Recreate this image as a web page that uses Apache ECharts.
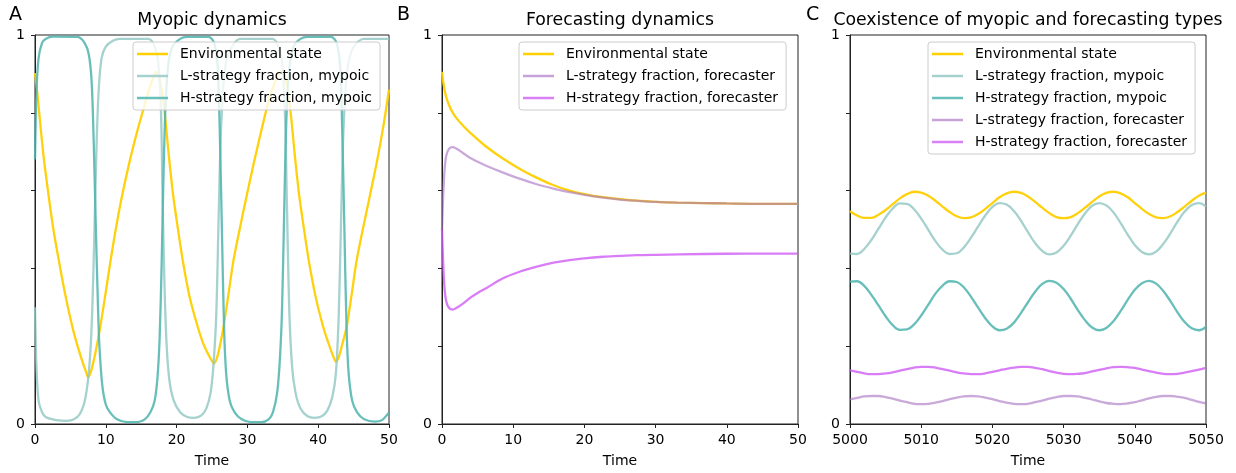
<!DOCTYPE html>
<html>
<head>
<meta charset="utf-8">
<script src="https://cdn.jsdelivr.net/npm/echarts@6/dist/echarts.min.js"></script>
<style>
html,body{margin:0;padding:0;background:#fff;}
#chart{width:1236px;height:473px;}
</style>
</head>
<body>
<div id="chart"></div>
<script>
// ---------------- DATA ----------------
const panelTitles = ['Myopic dynamics', 'Forecasting dynamics', 'Coexistence of myopic and forecasting types'];
const panelLetters = ['A', 'B', 'C'];
const seriesNames = {
  env: 'Environmental state',
  lMy: 'L-strategy fraction, mypoic',
  hMy: 'H-strategy fraction, mypoic',
  lFo: 'L-strategy fraction, forecaster',
  hFo: 'H-strategy fraction, forecaster'
};
const xTicksAB = [0, 10, 20, 30, 40, 50];
const xTicksC = [5000, 5010, 5020, 5030, 5040, 5050];

// Panel A: [time, value]
const envA = [[0,0.902],[0.3,0.855],[0.7,0.78],[1.2,0.69],[1.9,0.59],[2.6,0.5],[3.4,0.417],[4.3,0.33],[5.3,0.248],[6.1,0.195],[6.8,0.155],[7.2,0.135],[7.5,0.12],
  [7.9,0.135],[8.5,0.18],[9.2,0.248],[10.0,0.34],[10.6,0.412],[11.4,0.5],[12.2,0.578],[13.3,0.67],[14.4,0.75],[15.4,0.815],[16.2,0.865],[16.8,0.895],[17.1,0.905],[17.4,0.9],
  [17.9,0.86],[18.4,0.785],[18.9,0.69],[19.5,0.59],[20.2,0.5],[20.9,0.417],[21.8,0.33],[22.9,0.255],[23.7,0.21],[24.5,0.178],[25.0,0.162],[25.3,0.155],
  [25.7,0.17],[26.1,0.2],[26.6,0.247],[27.3,0.33],[28.0,0.417],[28.9,0.5],[29.9,0.587],[30.9,0.67],[32.0,0.757],[33.0,0.83],[33.8,0.875],[34.4,0.9],[34.8,0.906],[35.3,0.893],
  [35.7,0.86],[36.2,0.785],[36.7,0.69],[37.3,0.59],[38.0,0.5],[38.7,0.417],[39.6,0.33],[40.7,0.25],[41.5,0.205],[42.1,0.175],[42.5,0.16],
  [42.9,0.172],[43.4,0.205],[44.0,0.248],[44.7,0.33],[45.4,0.417],[46.3,0.5],[47.3,0.587],[48.3,0.675],[49.2,0.765],[50,0.86]];
const lMyopicA = [[0,0.3],[0.2,0.15],[0.5,0.06],[1,0.03],[1.5,0.018],[3,0.01],[4.5,0.008],[5.5,0.012],[6.3,0.025],[6.9,0.05],[7.4,0.1],[7.8,0.18],[8.1,0.3],[8.4,0.5],[8.7,0.72],[9,0.86],[9.4,0.94],[10,0.97],[11,0.985],[12,0.99],
  [16,0.99],[16.8,0.975],[17.4,0.93],[17.8,0.8],[18.0,0.6],[18.3,0.35],[18.6,0.2],[19,0.11],[19.6,0.06],[20.5,0.03],[21.5,0.018],[22.5,0.016],[23.5,0.022],[24.2,0.04],[24.8,0.08],[25.2,0.15],[25.6,0.28],[25.9,0.5],[26.2,0.72],[26.6,0.87],[27.1,0.94],[28,0.975],[29,0.99],
  [33.5,0.99],[34.3,0.975],[34.9,0.93],[35.3,0.8],[35.6,0.55],[35.9,0.3],[36.3,0.15],[36.8,0.08],[37.5,0.04],[38.5,0.02],[39.5,0.016],[40.5,0.02],[41.3,0.035],[42,0.07],[42.5,0.13],[42.9,0.28],[43.2,0.5],[43.5,0.72],[43.9,0.87],[44.4,0.94],[45.2,0.975],[46.5,0.99],[50,0.99]];
const hMyopicA = [[0,0.68],[0.2,0.85],[0.5,0.94],[1,0.98],[1.5,0.99],[2.5,0.996],[6,0.995],[7,0.98],[7.6,0.95],[8,0.88],[8.3,0.72],[8.6,0.5],[8.9,0.3],[9.1,0.2],[9.5,0.1],[10,0.05],[10.6,0.03],[11.6,0.012],[13,0.005],
  [14.5,0.005],[15.5,0.012],[16.3,0.03],[16.9,0.06],[17.3,0.12],[17.6,0.22],[17.9,0.42],[18.1,0.6],[18.4,0.8],[18.8,0.92],[19.4,0.97],[20.5,0.99],[21.5,0.995],
  [24.5,0.995],[25.3,0.98],[25.8,0.92],[26.1,0.75],[26.4,0.5],[26.7,0.25],[27,0.13],[27.5,0.06],[28.2,0.03],[29.2,0.012],[30.5,0.005],
  [32,0.005],[33,0.012],[33.6,0.03],[34.2,0.08],[34.6,0.17],[34.9,0.3],[35.2,0.55],[35.5,0.78],[35.9,0.91],[36.5,0.97],[37.5,0.99],[38.5,0.995],
  [41.8,0.995],[42.6,0.98],[43.1,0.92],[43.4,0.75],[43.7,0.5],[44,0.25],[44.3,0.13],[44.8,0.06],[45.5,0.03],[46.5,0.012],[48,0.006],[49,0.01],[50,0.03]];

// Panel B: [time, value]
const envB = [[0,0.905],[0.2,0.876],[0.4,0.855],[0.6,0.84],[0.9,0.824],[1.3,0.807],[2,0.787],[3,0.766],[4,0.748],[6,0.716],[8.5,0.683],[11,0.655],[13.2,0.634],[15.5,0.615],[17.9,0.6],[20,0.591],[22.6,0.583],[25,0.578],[27.3,0.574],[30,0.571],[33,0.569],[36.7,0.568],[40,0.567],[45,0.566],[50,0.566]];
const lForeB = [[0,0.5],[0.15,0.58],[0.35,0.65],[0.6,0.69],[1,0.708],[1.5,0.712],[2,0.708],[3,0.696],[3.85,0.685],[5,0.674],[6.2,0.664],[8.5,0.647],[11,0.63],[13.2,0.617],[15.5,0.606],[17.9,0.596],[20,0.589],[22.6,0.582],[25,0.577],[27.3,0.574],[30,0.571],[33,0.569],[36.7,0.568],[40,0.567],[45,0.566],[50,0.566]];
const hForeB = [[0,0.5],[0.15,0.42],[0.35,0.35],[0.6,0.315],[1,0.298],[1.5,0.294],[2,0.298],[3,0.31],[3.85,0.323],[5,0.337],[6.2,0.349],[8.5,0.374],[11,0.392],[13.2,0.404],[15.5,0.414],[17.9,0.421],[20,0.426],[22.6,0.43],[25,0.432],[27.3,0.434],[30,0.435],[36.7,0.437],[43,0.438],[50,0.438]];

// Panel C
const timeC = [5000,5001,5002,5003,5004,5005,5006,5007,5008,5009,5010,5011,5012,5013,5014,5015,5016,5017,5018,5019,5020,5021,5022,5023,5024,5025,5026,5027,5028,5029,5030,5031,5032,5033,5034,5035,5036,5037,5038,5039,5040,5041,5042,5043,5044,5045,5046,5047,5048,5049,5050];
const envC = [0.547,0.536,0.530,0.530,0.538,0.550,0.565,0.580,0.591,0.597,0.595,0.587,0.574,0.559,0.545,0.534,0.529,0.531,0.540,0.553,0.568,0.583,0.593,0.597,0.594,0.585,0.571,0.556,0.542,0.532,0.529,0.532,0.542,0.556,0.571,0.585,0.594,0.597,0.593,0.583,0.568,0.553,0.540,0.531,0.529,0.534,0.545,0.559,0.574,0.587,0.595];
const lMyopicC = [0.438,0.437,0.450,0.473,0.502,0.531,0.554,0.567,0.566,0.552,0.528,0.499,0.470,0.448,0.437,0.439,0.454,0.479,0.508,0.536,0.558,0.568,0.564,0.548,0.523,0.493,0.465,0.445,0.436,0.441,0.458,0.484,0.514,0.541,0.561,0.568,0.562,0.544,0.517,0.487,0.460,0.442,0.436,0.443,0.463,0.490,0.520,0.546,0.563,0.568,0.559];
const hMyopicC = [0.366,0.367,0.355,0.332,0.305,0.277,0.254,0.242,0.243,0.256,0.279,0.307,0.335,0.356,0.367,0.365,0.351,0.327,0.299,0.272,0.251,0.241,0.245,0.260,0.285,0.313,0.340,0.360,0.368,0.363,0.347,0.322,0.293,0.267,0.248,0.241,0.247,0.264,0.290,0.319,0.345,0.362,0.368,0.361,0.342,0.316,0.287,0.262,0.246,0.241,0.250];
const lForeC = [0.063,0.067,0.071,0.072,0.072,0.069,0.065,0.060,0.056,0.052,0.051,0.052,0.055,0.059,0.064,0.068,0.071,0.072,0.071,0.068,0.064,0.059,0.055,0.052,0.051,0.052,0.056,0.060,0.065,0.069,0.072,0.072,0.071,0.067,0.063,0.058,0.054,0.052,0.051,0.053,0.056,0.061,0.066,0.070,0.072,0.072,0.070,0.067,0.062,0.057,0.053];
const hForeC = [0.138,0.134,0.130,0.128,0.128,0.130,0.133,0.137,0.141,0.145,0.147,0.147,0.145,0.141,0.137,0.133,0.130,0.128,0.128,0.130,0.134,0.138,0.142,0.145,0.147,0.147,0.144,0.141,0.136,0.132,0.129,0.128,0.129,0.131,0.135,0.139,0.143,0.146,0.147,0.146,0.144,0.140,0.136,0.132,0.129,0.128,0.129,0.132,0.136,0.140,0.144];

// ---------------- STYLE ----------------
const FONT = 'DejaVu Sans';
const colors = {
  env: '#ffcf00',
  lMy: '#8fc6c2',
  hMy: '#4db4ae',
  lFo: '#a874c2',
  hFo: '#cf5cf5'
};
const legendColors = {
  env: '#ffd000',
  lMy: '#a5d1ce',
  hMy: '#68c0ba',
  lFo: '#c6a2d8',
  hFo: '#d980f7'
};
const opac = { env: 0.95, lMy: 0.8, hMy: 0.85, lFo: 0.62, hFo: 0.8 };
const grids = [
  { left: 35, top: 35, width: 354, height: 392 },
  { left: 442, top: 35, width: 356, height: 392 },
  { left: 850, top: 35, width: 356, height: 392 }
];

function pairsC(vals) { return timeC.map((t, i) => [t, vals[i]]); }

function xAxisFor(i, ticks) {
  return {
    type: 'value', gridIndex: i,
    min: ticks[0], max: ticks[ticks.length - 1], interval: ticks[1] - ticks[0],
    name: 'Time', nameLocation: 'middle', nameGap: 30,
    nameTextStyle: { fontFamily: FONT, fontSize: 14, color: '#000' },
    axisLine: { show: true, onZero: false, lineStyle: { color: '#222', width: 1 } },
    axisTick: { show: true, length: 4, lineStyle: { color: '#222' } },
    axisLabel: { margin: 9, fontFamily: FONT, fontSize: 14, color: '#000', showMinLabel: true, showMaxLabel: true,
      formatter: v => String(Math.round(v)) },
    splitLine: { show: false }
  };
}
function yAxisFor(i) {
  return {
    type: 'value', gridIndex: i, min: 0, max: 1, interval: 0.2,
    axisLine: { show: true, onZero: false, lineStyle: { color: '#222', width: 1 } },
    axisTick: { show: true, length: 4, lineStyle: { color: '#222' } },
    axisLabel: { margin: 10, fontFamily: FONT, fontSize: 14, color: '#000',
      formatter: v => (Math.abs(v) < 1e-9 ? '0' : (Math.abs(v - 1) < 1e-9 ? '1' : '')) },
    splitLine: { show: false }
  };
}
function lineSeries(key, data, gi, smooth) {
  return {
    type: 'line', name: seriesNames[key], xAxisIndex: gi, yAxisIndex: gi,
    data: data, showSymbol: false, symbol: 'none', smooth: smooth,
    color: colors[key],
    lineStyle: { color: colors[key], width: 2.3, opacity: opac[key] },
    animation: false, z: 3
  };
}
function legendFor(left, keys) {
  return {
    left: left, top: 42, orient: 'vertical',
    data: keys.map(k => ({ name: seriesNames[k], itemStyle: { color: legendColors[k] } })),
    icon: 'rect', itemWidth: 31, itemHeight: 2.5, itemGap: 6,
    padding: [4, 8, 4, 4],
    backgroundColor: 'rgba(255,255,255,0.8)', borderColor: '#cccccc', borderWidth: 1, borderRadius: 3,
    textStyle: { fontFamily: FONT, fontSize: 14, color: '#000', lineHeight: 16, padding: [0, 0, 0, 7] },
    selectedMode: false, z: 10
  };
}

const graphics = [];
const titleX = [212, 620, 1028];
const letterX = [9, 397, 806];
for (let i = 0; i < 3; i++) {
  graphics.push({ type: 'text', x: titleX[i], y: 21, z: 20,
    style: { text: panelTitles[i], fontFamily: FONT, fontSize: 17.3, fill: '#000', align: 'center', verticalAlign: 'middle' } });
  graphics.push({ type: 'text', x: letterX[i], y: 15, z: 20,
    style: { text: panelLetters[i], fontFamily: FONT, fontSize: 19, fill: '#000', align: 'left', verticalAlign: 'middle' } });
}

const option = {
  animation: false,
  backgroundColor: '#fff',
  grid: grids.map(g => Object.assign({ show: true, borderColor: '#222', borderWidth: 1, backgroundColor: 'transparent' }, g)),
  xAxis: [xAxisFor(0, xTicksAB), xAxisFor(1, xTicksAB), xAxisFor(2, xTicksC)],
  yAxis: [yAxisFor(0), yAxisFor(1), yAxisFor(2)],
  legend: [
    legendFor(133, ['env', 'lMy', 'hMy']),
    legendFor(519, ['env', 'lFo', 'hFo']),
    legendFor(928, ['env', 'lMy', 'hMy', 'lFo', 'hFo'])
  ],
  graphic: graphics,
  series: [
    lineSeries('env', envA, 0, 0.3),
    lineSeries('lMy', lMyopicA, 0, 0.3),
    lineSeries('hMy', hMyopicA, 0, 0.3),
    lineSeries('env', envB, 1, 0.3),
    lineSeries('lFo', lForeB, 1, 0.3),
    lineSeries('hFo', hForeB, 1, 0.3),
    lineSeries('env', pairsC(envC), 2, 0.4),
    lineSeries('lMy', pairsC(lMyopicC), 2, 0.4),
    lineSeries('hMy', pairsC(hMyopicC), 2, 0.4),
    lineSeries('lFo', pairsC(lForeC), 2, 0.4),
    lineSeries('hFo', pairsC(hForeC), 2, 0.4)
  ]
};
const chart = echarts.init(document.getElementById('chart'), null, { renderer: 'canvas' });
chart.setOption(option);
</script>
</body>
</html>
